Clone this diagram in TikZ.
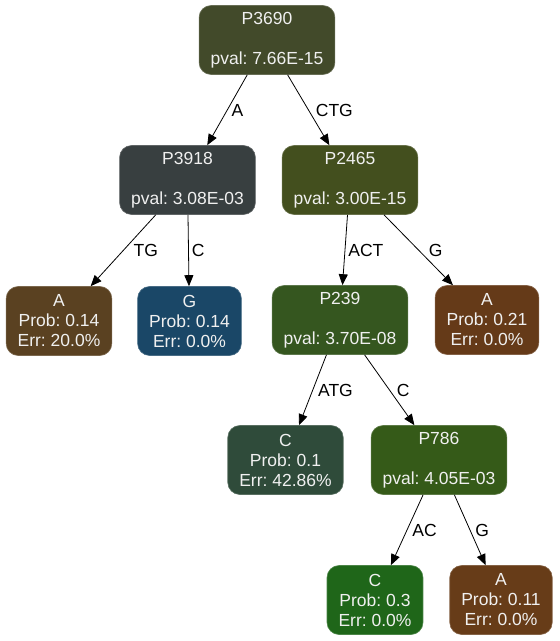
\documentclass[tikz,border=0pt]{standalone}
\usepackage{fontspec}
\setmainfont{Liberation Sans}
\usepackage{tikz}
\usetikzlibrary{arrows.meta,shapes,positioning}
\usepackage{xcolor}
\frenchspacing
\definecolor{rootgreen}{RGB}{66,74,42}
\definecolor{slategrey}{RGB}{56,63,64}
\definecolor{olivegreen}{RGB}{67,79,30}
\definecolor{mudbrown}{RGB}{90,65,33}
\definecolor{seablue}{RGB}{26,71,103}
\definecolor{mossgreen}{RGB}{53,86,31}
\definecolor{rustbrown}{RGB}{101,58,24}
\definecolor{pinegreen}{RGB}{47,75,58}
\definecolor{leafgreen}{RGB}{53,90,24}
\definecolor{grassgreen}{RGB}{31,102,25}
\definecolor{barkbrown}{RGB}{103,60,24}
\tikzstyle{split} = [rectangle, rounded corners=12pt, minimum height=69pt, inner xsep=11.5pt, align=center, text=white!94!black, font=\fontsize{17.5}{20}\selectfont, line width=0.6pt]
\tikzstyle{leaf} = [split]
\tikzstyle{branch} = [line width=0.8pt,-{Triangle[length=11pt,width=9pt]},color=black]
\tikzstyle{elabel} = [inner sep=1pt, anchor=west, font=\fontsize{17.5}{20}\selectfont]

\begin{document}
\begin{tikzpicture}[x=1pt, y=-1pt]
\useasboundingbox (0,0) rectangle (560,641);
% Splits
\node (p3690) [split, fill=rootgreen, draw=rootgreen!80!white] at (267,40) {P3690\\ ~\\ pval: 7.66E-15};
\node (p3918) [split, fill=slategrey, draw=slategrey!80!white] at (187.5,180) {P3918\\ ~\\ pval: 3.08E-03};
\node (p2465) [split, fill=olivegreen, draw=olivegreen!80!white] at (350,180) {P2465\\ ~\\ pval: 3.00E-15};
\node (p239) [split, fill=mossgreen, draw=mossgreen!80!white] at (340,320) {P239\\ ~\\ pval: 3.70E-08};
\node (p786) [split, fill=leafgreen, draw=leafgreen!80!white] at (439,460) {P786\\ ~\\ pval: 4.05E-03};

% Leaves
\node (leafa1) [leaf, fill=mudbrown, draw=mudbrown!80!white] at (59,321) {A\\ Prob: 0.14\\ Err: 20.0\%};
\node (leafg1) [leaf, fill=seablue, draw=seablue!80!white] at (189.5,321) {G\\ Prob: 0.14\\ Err: 0.0\%};
\node (leafa2) [leaf, fill=rustbrown, draw=rustbrown!80!white] at (487,320) {A\\ Prob: 0.21\\ Err: 0.0\%};
\node (leafc1) [leaf, fill=pinegreen, draw=pinegreen!80!white] at (285.5,460) {C\\ Prob: 0.1\\ Err: 42.86\%};
\node (leafc2) [leaf, fill=grassgreen, draw=grassgreen!80!white] at (375,600) {C\\ Prob: 0.3\\ Err: 0.0\%};
\node (leafa3) [leaf, fill=barkbrown, draw=barkbrown!80!white] at (501,600) {A\\ Prob: 0.11\\ Err: 0.0\%};

% Branches
\draw[branch] (p3690) -- node[elabel, xshift=3pt] {A} (p3918);
\draw[branch] (p3690) -- node[elabel, xshift=6pt] {CTG} (p2465);
\draw[branch] (p3918) -- node[elabel, xshift=9pt] {TG} (leafa1);
\draw[branch] (p3918) -- node[elabel, xshift=2pt] {C} (leafg1);
\draw[branch] (p2465) -- node[elabel, xshift=2pt] {ACT} (p239);
\draw[branch] (p2465) -- node[elabel, xshift=9pt] {G} (leafa2);
\draw[branch] (p239) -- node[elabel, xshift=4pt] {ATG} (leafc1);
\draw[branch] (p239) -- node[elabel, xshift=6pt] {C} (p786);
\draw[branch] (p786) -- node[elabel, xshift=4pt] {AC} (leafc2);
\draw[branch] (p786) -- node[elabel, xshift=4pt] {G} (leafa3);
\end{tikzpicture}
\end{document}
